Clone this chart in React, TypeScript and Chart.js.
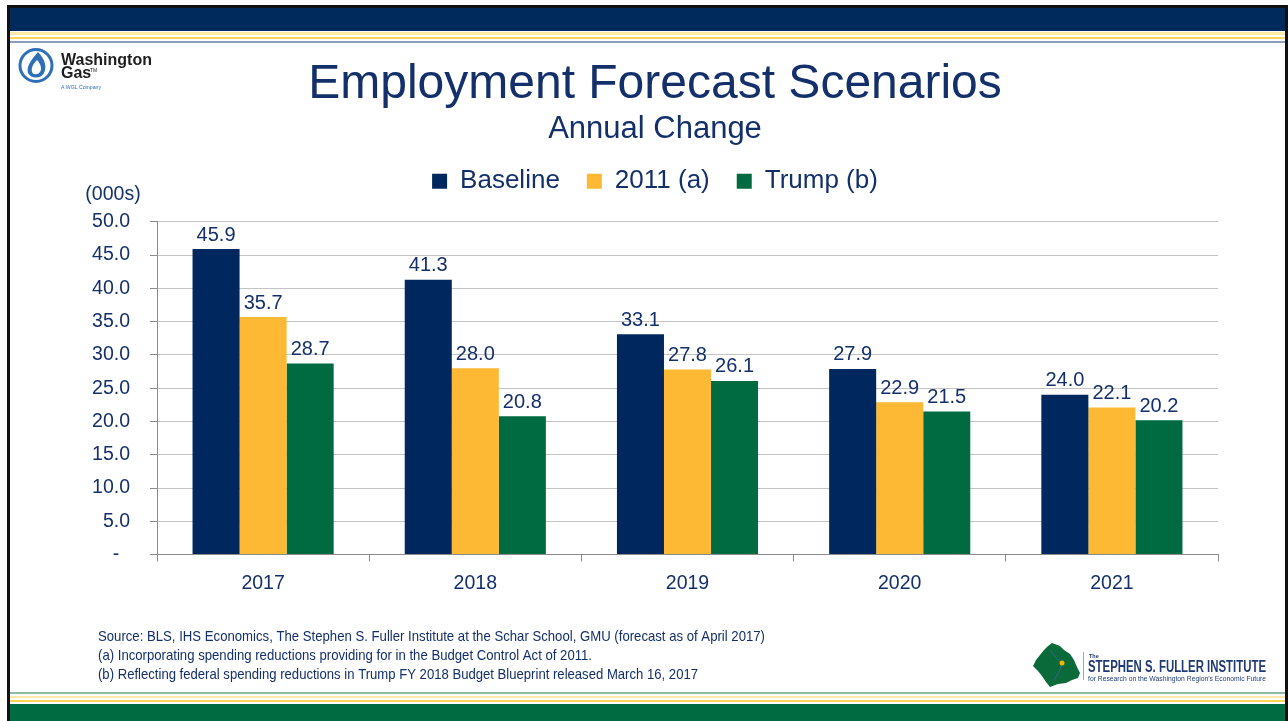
import React, { useEffect, useRef } from 'react';
import { Chart, registerables } from 'chart.js';

Chart.register(...registerables);

// ---------- data ----------
const categories = ['2017', '2018', '2019', '2020', '2021'];
const seriesNames = ['Baseline', '2011 (a)', 'Trump (b)'];
const baselineValues = [45.9, 41.3, 33.1, 27.9, 24.0];
const budget2011Values = [35.7, 28.0, 27.8, 22.9, 22.1];
const trumpValues = [28.7, 20.8, 26.1, 21.5, 20.2];
const yTickValues = [0, 5, 10, 15, 20, 25, 30, 35, 40, 45, 50];
const yTickLabels = ['-  ', '5.0', '10.0', '15.0', '20.0', '25.0', '30.0', '35.0', '40.0', '45.0', '50.0'];
const titleText = 'Employment Forecast Scenarios';
const subtitleText = 'Annual Change';
const unitLabel = '(000s)';
const footnotes = [
  'Source: BLS, IHS Economics, The Stephen S. Fuller Institute at the Schar School, GMU (forecast as of April 2017)',
  '(a) Incorporating spending reductions providing for in the Budget Control Act of 2011.',
  '(b) Reflecting federal spending reductions in Trump FY 2018 Budget Blueprint released March 16, 2017',
];

// ---------- styles ----------
const W = 1288;
const H = 721;
const FONT = '"Liberation Sans", Arial, Helvetica, sans-serif';
const TEXT = '#14306b';
const NAVY = '#00275e';
const GOLD = '#fdb933';
const GREEN = '#006a40';
const seriesColors = [NAVY, GOLD, GREEN];

const decorPlugin = {
  id: 'decor',
  beforeDraw(chart: any) {
    const ctx = chart.ctx;
    ctx.save();
    ctx.fillStyle = '#ffffff';
    ctx.fillRect(0, 0, W, H);
    // header band
    ctx.fillStyle = '#002a5c';
    ctx.fillRect(10, 8, 1275, 23);
    ctx.fillStyle = '#fdeaa8';
    ctx.fillRect(10, 32, 1275, 3);
    ctx.fillStyle = '#fcd457';
    ctx.fillRect(10, 37, 1275, 2);
    ctx.fillStyle = '#8c9dbd';
    ctx.fillRect(10, 41, 1275, 2);
    // footer band
    ctx.fillStyle = '#8dbba3';
    ctx.fillRect(10, 692, 1275, 2);
    ctx.fillStyle = '#fdeaa8';
    ctx.fillRect(10, 696, 1275, 2);
    ctx.fillStyle = '#fcd457';
    ctx.fillRect(10, 700, 1275, 2);
    ctx.fillStyle = '#006a40';
    ctx.fillRect(10, 704, 1275, 17);
    // frame
    ctx.fillStyle = '#111111';
    ctx.fillRect(7, 5, 1281, 3);
    ctx.fillRect(7, 5, 3, 716);
    ctx.fillRect(1285, 5, 3, 716);
    ctx.restore();
  },
  afterDraw(chart: any) {
    const ctx = chart.ctx;
    ctx.save();
    // unit label
    ctx.fillStyle = TEXT;
    ctx.font = `19.5px ${FONT}`;
    ctx.textAlign = 'center';
    ctx.textBaseline = 'middle';
    ctx.fillText(unitLabel, 113, 195);

    // footnotes
    ctx.textAlign = 'left';
    ctx.textBaseline = 'alphabetic';
    ctx.font = `14.5px ${FONT}`;
    const fw = [667, 494, 600];
    footnotes.forEach((t, i) => {
      ctx.fillText(t, 98, 641 + i * 19, fw[i]);
    });

    // Washington Gas logo
    const blue = '#2f6fb8';
    ctx.strokeStyle = blue;
    ctx.lineWidth = 3;
    ctx.beginPath();
    ctx.arc(36, 65.5, 16, 0, Math.PI * 2);
    ctx.stroke();
    ctx.fillStyle = blue;
    ctx.beginPath();
    ctx.moveTo(38, 52);
    ctx.bezierCurveTo(45, 59, 47, 67, 44, 73);
    ctx.bezierCurveTo(41, 79, 31, 79, 28, 73);
    ctx.bezierCurveTo(26, 67, 31, 60, 38, 52);
    ctx.fill();
    ctx.fillStyle = '#ffffff';
    ctx.beginPath();
    ctx.moveTo(37, 60);
    ctx.bezierCurveTo(41, 64, 42, 69, 40, 72);
    ctx.bezierCurveTo(38, 75, 33, 75, 32, 72);
    ctx.bezierCurveTo(31, 68, 33, 64, 37, 60);
    ctx.fill();
    ctx.fillStyle = '#1e1e1e';
    ctx.font = `bold 16px ${FONT}`;
    ctx.fillText('Washington', 61, 65, 91);
    ctx.fillText('Gas', 61, 78);
    ctx.font = `5px ${FONT}`;
    ctx.fillText('TM', 90, 72);
    ctx.fillStyle = blue;
    ctx.font = `5.5px ${FONT}`;
    ctx.fillText('A WGL Company', 61, 89, 40);

    // Fuller Institute logo
    ctx.fillStyle = '#0a6a3a';
    ctx.beginPath();
    const pts = [
      [1052, 643], [1060, 646], [1064, 650], [1070, 654], [1074, 660], [1077, 667], [1080, 673],
      [1078, 678], [1072, 680], [1066, 683], [1058, 684], [1050, 687], [1046, 682], [1042, 676],
      [1038, 671], [1033, 666], [1036, 660], [1040, 655], [1044, 650], [1048, 646],
    ];
    pts.forEach(([x, y], i) => (i === 0 ? ctx.moveTo(x, y) : ctx.lineTo(x, y)));
    ctx.closePath();
    ctx.fill();
    ctx.strokeStyle = '#3b5f9c';
    ctx.lineWidth = 1;
    ctx.beginPath();
    ctx.moveTo(1050, 650);
    ctx.quadraticCurveTo(1058, 660, 1062, 664);
    ctx.quadraticCurveTo(1060, 672, 1054, 680);
    ctx.stroke();
    ctx.fillStyle = '#f5b400';
    ctx.beginPath();
    ctx.arc(1062, 663, 2.5, 0, Math.PI * 2);
    ctx.fill();
    ctx.fillStyle = '#9aa7c3';
    ctx.fillRect(1083, 652, 1, 28);
    ctx.fillStyle = '#1f3a73';
    ctx.font = `bold 5.5px ${FONT}`;
    ctx.fillText('The', 1089, 658);
    ctx.font = `bold 16px ${FONT}`;
    ctx.fillText('STEPHEN S. FULLER INSTITUTE', 1088, 672, 178);
    ctx.font = `7px ${FONT}`;
    ctx.fillText("for Research on the Washington Region's Economic Future", 1088, 681, 178);
    ctx.restore();
  },
};

const valueLabelPlugin = {
  id: 'valueLabels',
  afterDatasetsDraw(chart: any) {
    const ctx = chart.ctx;
    ctx.save();
    ctx.fillStyle = TEXT;
    ctx.font = `20px ${FONT}`;
    ctx.textAlign = 'center';
    ctx.textBaseline = 'bottom';
    chart.data.datasets.forEach((ds: any, di: number) => {
      const meta = chart.getDatasetMeta(di);
      meta.data.forEach((el: any, i: number) => {
        ctx.fillText(Number(ds.data[i]).toFixed(1), el.x, el.y - 4);
      });
    });
    ctx.restore();
  },
};

export default function App() {
  const ref = useRef<HTMLCanvasElement | null>(null);
  useEffect(() => {
    if (!ref.current) return;
    const values = [baselineValues, budget2011Values, trumpValues];
    const chart = new Chart(ref.current, {
      type: 'bar',
      data: {
        labels: categories,
        datasets: seriesNames.map((name, i) => ({
          label: name,
          data: values[i],
          backgroundColor: seriesColors[i],
          borderWidth: 0,
          barPercentage: 1,
          categoryPercentage: 0.665,
        })),
      },
      options: {
        responsive: false,
        animation: false,
        layout: { padding: { left: 92, right: 70, top: 52.4, bottom: 116 } },
        plugins: {
          title: {
            display: true,
            text: titleText,
            color: TEXT,
            font: { family: FONT, size: 48, weight: 'normal', lineHeight: 1.35 },
            padding: { top: 0, bottom: 0 },
          },
          subtitle: {
            display: true,
            text: subtitleText,
            color: TEXT,
            font: { family: FONT, size: 31, weight: 'normal', lineHeight: 0.775 },
            padding: { top: 0, bottom: 0 },
          },
          legend: {
            display: true,
            position: 'top',
            labels: {
              boxWidth: 15,
              boxHeight: 15,
              color: TEXT,
              font: { family: FONT, size: 26 },
              padding: 27,
            },
          },
          tooltip: { enabled: false },
        },
        scales: {
          x: {
            grid: {
              display: true,
              drawOnChartArea: false,
              drawTicks: true,
              tickLength: 7,
              color: '#8c8c8c',
              offset: true,
            },
            border: { color: '#8c8c8c', width: 1 },
            ticks: { color: TEXT, font: { family: FONT, size: 19.5 }, padding: 10 },
          },
          // invisible spacer between the legend and the plot area
          xSpacer: {
            type: 'category',
            position: 'top',
            labels: categories,
            grid: { display: false, drawTicks: false },
            border: { display: false },
            ticks: { display: false },
            title: { display: true, text: ' ', font: { size: 16, lineHeight: 1.1 }, padding: 0 },
          },
          y: {
            min: 0,
            max: 50,
            afterBuildTicks: (scale: any) => {
              scale.ticks = yTickValues.map((v) => ({ value: v }));
            },
            afterFit: (scale: any) => {
              scale.width = 65;
            },
            ticks: {
              color: TEXT,
              font: { family: FONT, size: 19.5 },
              padding: 20,
              callback: (v: any) => {
                const idx = yTickValues.indexOf(Number(v));
                return idx >= 0 ? yTickLabels[idx] : '';
              },
            },
            grid: { color: '#c4c4c4', tickLength: 7, tickColor: '#8c8c8c' },
            border: { color: '#8c8c8c', width: 1 },
          },
        },
      },
      plugins: [decorPlugin, valueLabelPlugin],
    } as any);
    return () => chart.destroy();
  }, []);
  return (
    <div style={{ position: 'absolute', left: 0, top: 0, width: W, height: H }}>
      <canvas ref={ref} width={W} height={H} style={{ display: 'block', width: W, height: H }} />
    </div>
  );
}
